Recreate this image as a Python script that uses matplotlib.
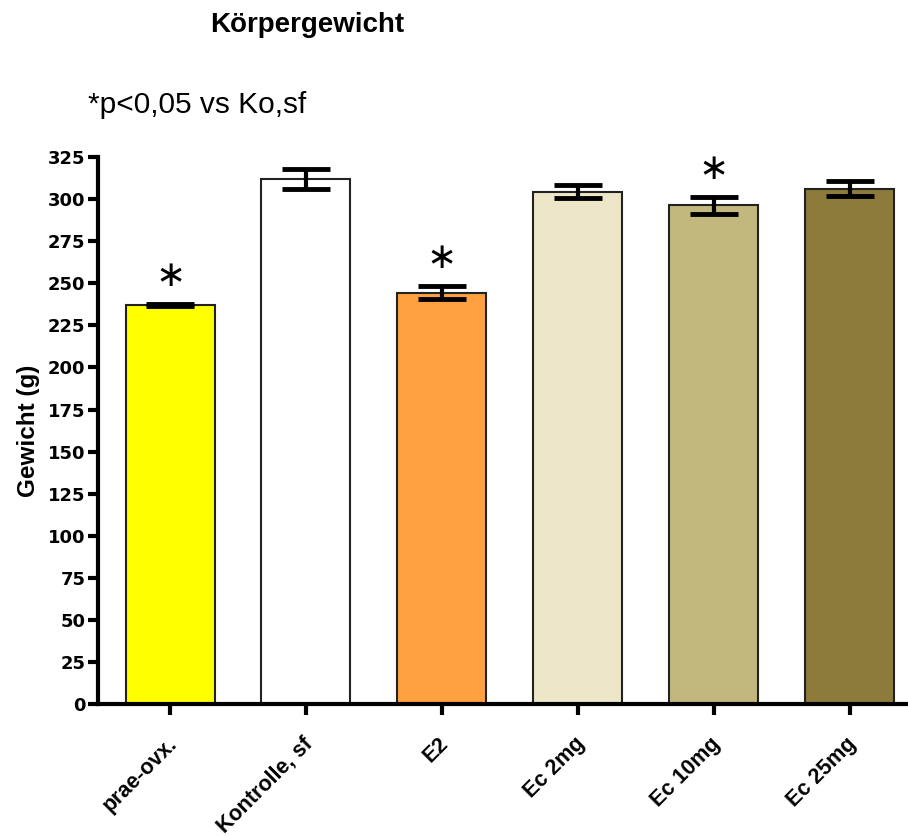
import matplotlib
matplotlib.use("Agg")
import matplotlib.pyplot as plt
import matplotlib.transforms as mtrans
import numpy as np

plt.rcParams['font.family'] = ['Liberation Sans', 'DejaVu Sans']

groups = ['prae-ovx.', 'Kontrolle, sf', 'E2', 'Ec 2mg', 'Ec 10mg', 'Ec 25mg']
means = [237, 312, 244.5, 304.5, 296.3, 306.3]
sems = [0.6, 6.0, 4.0, 3.8, 5.3, 4.5]
signif = [True, False, True, False, True, False]
colors = ['#FFFF00', '#FFFFFF', '#FFA040', '#EDE6C9', '#C2B77C', '#8C7B3A']
yticks = list(range(0, 326, 25))

fig = plt.figure(figsize=(9.08, 8.36), dpi=100)
ax = fig.add_axes([0.108, 0.158, 0.892, 0.654])

x = np.arange(len(groups))
ax.bar(x, means, width=0.655, color=colors, edgecolor='#222222', linewidth=1.5, zorder=2)
ax.errorbar(x, means, yerr=sems, fmt='none', ecolor='black', elinewidth=3,
            capsize=17, capthick=3.5, zorder=3)

# significance stars
for i in range(len(groups)):
    if signif[i]:
        ax.annotate('\u2217', xy=(x[i], means[i] + sems[i]), xytext=(0, 20),
                    textcoords='offset points', ha='center', va='center',
                    fontsize=26, family='DejaVu Sans')

ax.set_xlim(-0.53, len(groups) - 0.57)
ax.set_ylim(0, 325)
ax.set_yticks(yticks)
ax.set_xticks(x)
ax.set_xticklabels(groups, rotation=45, ha='right', fontsize=15.5, fontweight='bold')
ax.tick_params(axis='x', length=8, width=3, pad=13)
ax.tick_params(axis='y', length=7, width=3, pad=2)
shift = mtrans.ScaledTranslation(8 / 72, 0, fig.dpi_scale_trans)
for lab in ax.get_xticklabels():
    lab.set_transform(lab.get_transform() + shift)
for lab in ax.get_yticklabels():
    lab.set_fontweight('bold')
    lab.set_fontfamily('DejaVu Sans')
    lab.set_fontsize(13)

for s in ['top', 'right']:
    ax.spines[s].set_visible(False)
for s in ['left', 'bottom']:
    ax.spines[s].set_linewidth(3)

ax.set_ylabel('Gewicht (g)', fontsize=17.5, fontweight='bold', labelpad=6)

fig.text(0.338, 0.970, 'Körpergewicht', ha='center', va='center',
         fontsize=20, fontweight='bold')
fig.text(0.097, 0.874, '*p<0,05 vs Ko,sf', ha='left', va='center', fontsize=21.5)

fig.savefig('out.png', dpi=100)
